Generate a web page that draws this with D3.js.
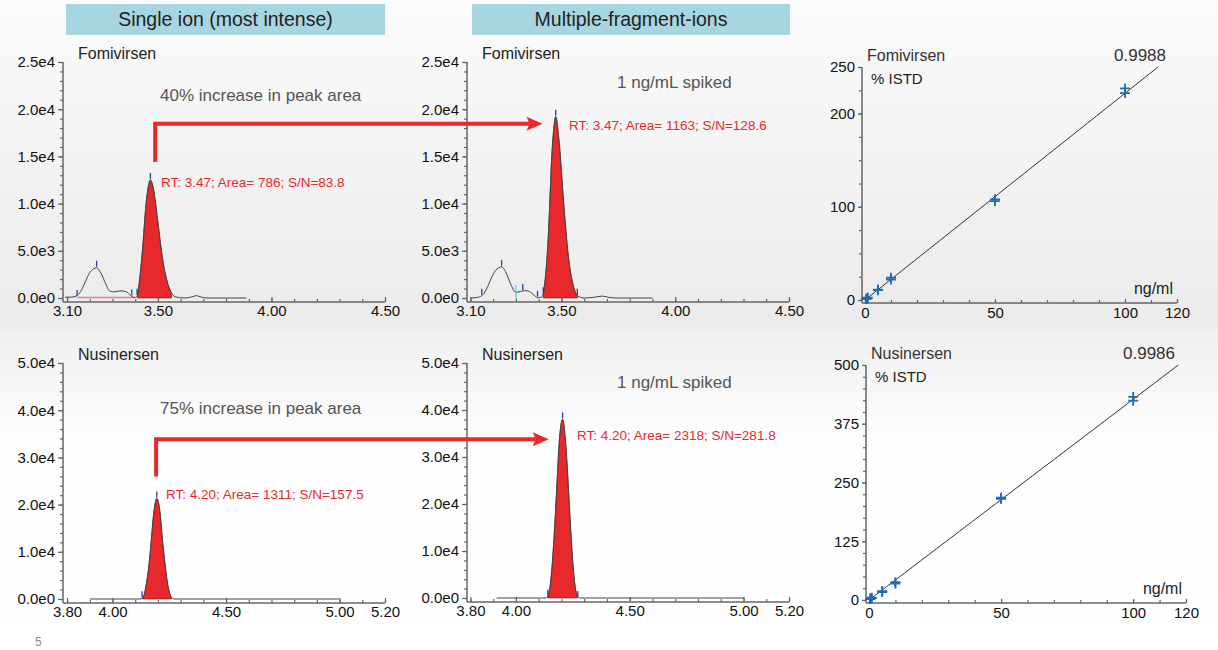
<!DOCTYPE html>
<html>
<head>
<meta charset="utf-8">
<script src="https://cdn.jsdelivr.net/npm/d3@7"></script>
<style>
  body { margin: 0; background: #fff; }
  svg { display: block; font-family: "Liberation Sans", Arial, sans-serif; }
  .axis path, .axis line { stroke: #666; stroke-width: 1.2; }
  .axis text { font-size: 15px; fill: #111; }
</style>
</head>
<body>
<svg width="1218" height="650"></svg>
<script>
// --- chromatogram traces: [retention time (min), intensity] ---
const fomiSingle = [[3.09,80],[3.12,100],[3.14,200],[3.16,700],[3.18,1700],[3.20,2700],[3.23,3200],[3.25,2600],
  [3.27,1500],[3.29,700],[3.31,650],[3.33,750],[3.35,740],[3.37,500],[3.385,150],[3.40,50],[3.41,300],
  [3.43,4500],[3.45,10500],[3.467,12500],[3.48,11600],[3.50,8000],[3.52,4200],[3.54,1800],[3.56,500],
  [3.58,100],[3.62,0],[3.65,120],[3.67,250],[3.69,100],[3.72,0],[3.89,0]];
const fomiMulti = [[3.10,0],[3.13,60],[3.15,250],[3.17,900],[3.19,2000],[3.21,2900],[3.237,3300],[3.26,2500],
  [3.28,1300],[3.30,600],[3.32,700],[3.34,780],[3.36,680],[3.38,300],[3.395,30],[3.41,80],[3.42,400],
  [3.44,5500],[3.46,16000],[3.475,19200],[3.49,16500],[3.51,10000],[3.53,4500],[3.55,1500],[3.57,250],
  [3.60,0],[3.65,100],[3.68,200],[3.71,60],[3.75,0],[3.90,0]];
const nusiSingle = [[3.90,0],[4.12,0],[4.13,150],[4.14,1000],[4.15,3500],[4.16,7000],[4.17,12000],[4.18,17500],
  [4.195,21300],[4.21,18000],[4.22,12500],[4.23,8000],[4.24,4000],[4.25,1500],[4.26,300],[4.27,0],[5.00,0]];
const nusiMulti = [[3.915,0],[4.13,0],[4.14,300],[4.15,2500],[4.16,7500],[4.17,15000],[4.18,24000],[4.19,33000],
  [4.205,38000],[4.22,32000],[4.23,24000],[4.24,15000],[4.25,7500],[4.26,2500],[4.27,400],[4.28,0],[5.005,0]];

// integrated peak windows (start, end)
const fomiSinglePeak = [3.41, 3.565];
const fomiMultiPeak = [3.42, 3.57];
const nusiSinglePeak = [4.13, 4.265];
const nusiMultiPeak = [4.14, 4.272];

// peak markers [time, intensity, kind]
const fomiSingleMarks = [[3.144,100,"b"],[3.23,3200,"b"],[3.385,150,"b"],[3.408,250,"b"],[3.467,12500,"b"]];
const fomiMultiMarks = [[3.15,250,"b"],[3.237,3300,"b"],[3.30,600,"c"],[3.33,750,"b"],[3.395,30,"b"],[3.42,400,"b"],[3.475,19200,"b"],[3.57,250,"b"]];
const nusiSingleMarks = [[4.13,150,"b"],[4.195,21300,"b"]];
const nusiMultiMarks = [[4.14,300,"b"],[4.205,38000,"b"],[4.272,0,"b"]];
const fomiSingleBaseline = [[3.144,60],[3.40,60]];

// peak labels
const peakLabels = ["RT: 3.47; Area= 786; S/N=83.8", "RT: 3.47; Area= 1163; S/N=128.6",
                    "RT: 4.20; Area= 1311; S/N=157.5", "RT: 4.20; Area= 2318; S/N=281.8"];
const compounds = ["Fomivirsen", "Nusinersen"];
const headers = ["Single ion (most intense)", "Multiple-fragment-ions"];
const increases = ["40% increase in peak area", "75% increase in peak area"];

// axis ticks
const fomiTimeTicks = [3.10, 3.50, 4.00, 4.50];
const nusiTimeTicks = [3.80, 4.00, 4.50, 5.00, 5.20];
const fomiIntTicks = [0, 5000, 10000, 15000, 20000, 25000];
const nusiIntTicks = [0, 10000, 20000, 30000, 40000, 50000];

// calibration curves
const calConc = [0.5, 0.5, 1, 1, 5, 5, 10, 10, 50, 50, 100, 100];
const fomiResp = [1.0, 1.4, 2.0, 2.6, 10.5, 11.2, 22, 24, 106, 108, 222, 227];
const nusiResp = [2, 3, 4, 5, 17, 19, 35, 38, 215, 218, 424, 432];
const fitSlopes = [2.218, 4.27];
const fitR = ["0.9988", "0.9986"];
const concTicks = [0, 50, 100, 120];
const fomiRespTicks = [0, 100, 200, 250];
const nusiRespTicks = [0, 125, 250, 375, 500];

const svg = d3.select("svg");
const RED = "#e8292c";

// background
const grad = svg.append("defs").append("linearGradient").attr("id", "bg")
  .attr("x1", 0).attr("y1", 0).attr("x2", 0).attr("y2", 1);
[[0, "#fbfbfb"], [0.5, "#ebebeb"], [0.51, "#f0f0f0"], [0.68, "#fefefe"], [1, "#ffffff"]]
  .forEach(s => grad.append("stop").attr("offset", s[0]).attr("stop-color", s[1]));
svg.append("rect").attr("width", 1218).attr("height", 650).attr("fill", "url(#bg)");

// headers
[[66, 385], [472, 790]].forEach((b, i) => {
  svg.append("rect").attr("x", b[0]).attr("y", 4).attr("width", b[1] - b[0]).attr("height", 31).attr("fill", "#a7d6e1");
  svg.append("text").attr("x", (b[0] + b[1]) / 2).attr("y", 26).attr("text-anchor", "middle")
    .style("font-size", "19.5px").attr("fill", "#222").text(headers[i]);
});

const fmtE = d => d3.format(".1e")(d).replace("+", "");

function chromPanel(o) {
  const g = svg.append("g");
  const x = d3.scaleLinear().domain(o.xDomain).range([o.left, o.right]);
  const y = d3.scaleLinear().domain([0, o.yMax]).range([o.bottom, o.top]);
  const axisY = o.bottom + 4;

  // y axis
  const ya = g.append("g").attr("class", "axis").attr("transform", `translate(${o.left},0)`);
  ya.call(d3.axisLeft(y).tickValues(o.yTicks).tickFormat(fmtE).tickSizeInner(5).tickSizeOuter(0).tickPadding(3));
  ya.select(".domain").remove();
  g.append("g").attr("class", "axis").attr("transform", `translate(${o.left},0)`)
    .call(d3.axisLeft(y).tickValues(d3.range(0, o.yMax + 1, o.yMax / 25)).tickFormat("").tickSizeInner(3).tickSizeOuter(0))
    .select(".domain").remove();
  g.append("line").attr("x1", o.left).attr("x2", o.left).attr("y1", o.top).attr("y2", axisY)
    .attr("stroke", "#666").attr("stroke-width", 1.5);

  // x axis
  const xa = g.append("g").attr("class", "axis").attr("transform", `translate(0,${axisY})`);
  xa.call(d3.axisBottom(x).tickValues(o.xTicks).tickFormat(d3.format(".2f")).tickSizeInner(-5).tickSizeOuter(0).tickPadding(3));
  xa.select(".domain").remove();
  const minors = d3.range(Math.round(o.xTicks[0] * 10), Math.round(o.xTicks[o.xTicks.length - 1] * 10) + 1).map(d => d / 10);
  g.append("g").attr("class", "axis").attr("transform", `translate(0,${axisY})`)
    .call(d3.axisBottom(x).tickValues(minors).tickFormat("").tickSizeInner(-3).tickSizeOuter(0))
    .select(".domain").remove();
  g.append("line").attr("x1", o.left).attr("x2", o.right).attr("y1", axisY).attr("y2", axisY)
    .attr("stroke", "#666").attr("stroke-width", 1.5);

  // baseline of integration
  if (o.baseline) {
    g.append("path").datum(o.baseline).attr("fill", "none").attr("stroke", "#ef7f82").attr("stroke-width", 1.5)
      .attr("d", d3.line().x(d => x(d[0])).y(d => y(d[1])));
  }

  // filled peak
  const peakPts = o.trace.filter(d => d[0] >= o.peak[0] && d[0] <= o.peak[1]);
  g.append("path").datum(peakPts)
    .attr("d", d3.area().x(d => x(d[0])).y0(y(0)).y1(d => y(d[1])).curve(d3.curveMonotoneX))
    .attr("fill", RED).attr("stroke", "#6b1a1a").attr("stroke-width", 0.6);

  // trace
  g.append("path").datum(o.trace)
    .attr("d", d3.line().x(d => x(d[0])).y(d => y(d[1])).curve(d3.curveMonotoneX))
    .attr("fill", "none").attr("stroke", "#444").attr("stroke-width", 1);

  // markers
  g.selectAll(".mk").data(o.marks).join("line")
    .attr("x1", d => x(d[0])).attr("x2", d => x(d[0]))
    .attr("y1", d => y(d[1]) - 7)
    .attr("y2", d => d[2] === "c" ? y(0) + 1 : y(d[1]) - 1)
    .attr("stroke", d => d[2] === "c" ? "#5cc8ee" : "#2b3f9e").attr("stroke-width", 1.3);

  // texts
  g.append("text").attr("x", o.left + 15).attr("y", o.top - 3).style("font-size", "16px").attr("fill", "#222").text(o.name);
  g.append("text").attr("x", o.noteX).attr("y", o.noteY).style("font-size", "17px").attr("fill", "#555").text(o.note);
  g.append("text").attr("x", o.labelX).attr("y", o.labelY).style("font-size", "13.5px").attr("fill", RED).text(o.label);
  return { x, y };
}

const pTL = chromPanel({ left: 63, right: 385, top: 62, bottom: 298, xDomain: [3.082, 4.50], yMax: 25000,
  xTicks: fomiTimeTicks, yTicks: fomiIntTicks, trace: fomiSingle, peak: fomiSinglePeak, marks: fomiSingleMarks,
  baseline: fomiSingleBaseline, name: compounds[0], note: increases[0], noteX: 160, noteY: 101,
  label: peakLabels[0], labelX: 161, labelY: 187 });
const pTM = chromPanel({ left: 467, right: 789, top: 62, bottom: 298, xDomain: [3.085, 4.50], yMax: 25000,
  xTicks: fomiTimeTicks, yTicks: fomiIntTicks, trace: fomiMulti, peak: fomiMultiPeak, marks: fomiMultiMarks,
  name: compounds[0], note: "1 ng/mL spiked", noteX: 617, noteY: 88,
  label: peakLabels[1], labelX: 569, labelY: 130 });
const pBL = chromPanel({ left: 63, right: 385, top: 363, bottom: 599, xDomain: [3.782, 5.20], yMax: 50000,
  xTicks: nusiTimeTicks, yTicks: nusiIntTicks, trace: nusiSingle, peak: nusiSinglePeak, marks: nusiSingleMarks,
  name: compounds[1], note: increases[1], noteX: 160, noteY: 414,
  label: peakLabels[2], labelX: 166, labelY: 499 });
const pBM = chromPanel({ left: 467, right: 789, top: 363, bottom: 598, xDomain: [3.785, 5.20], yMax: 50000,
  xTicks: nusiTimeTicks, yTicks: nusiIntTicks, trace: nusiMulti, peak: nusiMultiPeak, marks: nusiMultiMarks,
  name: compounds[1], note: "1 ng/mL spiked", noteX: 617, noteY: 388,
  label: peakLabels[3], labelX: 577, labelY: 440 });

// elbow arrows from single-ion peak to multi-fragment peak
function elbowArrow(from, to, startT, startI, levelI, endT) {
  const x0 = from.x(startT), y0 = from.y(startI), yl = from.y(levelI), x1 = to.x(endT);
  svg.append("path").attr("d", `M${x0},${y0}V${yl}H${x1 - 13}`)
    .attr("fill", "none").attr("stroke", RED).attr("stroke-width", 4);
  svg.append("path").attr("d", `M${x1},${yl}L${x1 - 16},${yl - 7}L${x1 - 13},${yl}L${x1 - 16},${yl + 7}Z`).attr("fill", RED);
}
elbowArrow(pTL, pTM, 3.488, 14400, 18450, 3.417);
elbowArrow(pBL, pBM, 4.192, 25960, 33830, 4.144);

// calibration panels
function calPanel(o) {
  const g = svg.append("g");
  const x = d3.scaleLinear().domain([0, 120]).range([o.left + 3, o.right]);
  const y = d3.scaleLinear().domain([0, o.yMax]).range([o.bottom, o.top]);
  const axisY = o.bottom + 3;

  const ya = g.append("g").attr("class", "axis").attr("transform", `translate(${o.left},0)`);
  ya.call(d3.axisLeft(y).tickValues(o.yTicks).tickSizeInner(4).tickSizeOuter(0).tickPadding(3));
  ya.select(".domain").remove();
  g.append("g").attr("class", "axis").attr("transform", `translate(${o.left},0)`)
    .call(d3.axisLeft(y).tickValues(d3.range(0, o.yMax + 1, 25)).tickFormat("").tickSizeInner(3).tickSizeOuter(0))
    .select(".domain").remove();
  g.append("line").attr("x1", o.left).attr("x2", o.left).attr("y1", o.top).attr("y2", axisY)
    .attr("stroke", "#666").attr("stroke-width", 1.5);

  const xa = g.append("g").attr("class", "axis").attr("transform", `translate(0,${axisY})`);
  xa.call(d3.axisBottom(x).tickValues(concTicks).tickSizeInner(-4).tickSizeOuter(0).tickPadding(4));
  xa.select(".domain").remove();
  g.append("g").attr("class", "axis").attr("transform", `translate(0,${axisY})`)
    .call(d3.axisBottom(x).tickValues(d3.range(0, 121, 10)).tickFormat("").tickSizeInner(-3).tickSizeOuter(0))
    .select(".domain").remove();
  g.append("line").attr("x1", o.left).attr("x2", o.right).attr("y1", axisY).attr("y2", axisY)
    .attr("stroke", "#666").attr("stroke-width", 1.5);

  // fit line
  const xEnd = o.yMax / o.slope;
  g.append("line").attr("x1", x(0)).attr("y1", y(0)).attr("x2", x(xEnd)).attr("y2", y(o.yMax))
    .attr("stroke", "#333").attr("stroke-width", 1);

  // points
  g.selectAll(".pt").data(calConc.map((c, i) => [c, o.resp[i]])).join("path")
    .attr("transform", d => `translate(${x(d[0])},${y(d[1])})`)
    .attr("d", "M-5,0H5M0,-5V5").attr("stroke", "#1f6cb6").attr("stroke-width", 1.8).attr("fill", "none");

  g.append("text").attr("x", o.left + 5).attr("y", o.top - 6).style("font-size", "16px").attr("fill", "#333").text(o.name);
  g.append("text").attr("x", o.right - 11).attr("y", o.top - 6).attr("text-anchor", "end").style("font-size", "17px").attr("fill", "#333").text(o.r);
  g.append("text").attr("x", o.left + 9).attr("y", o.top + 17).style("font-size", "15px").attr("fill", "#222").text("% ISTD");
  g.append("text").attr("x", o.right - 4).attr("y", o.bottom - 6).attr("text-anchor", "end").style("font-size", "16px").attr("fill", "#222").text("ng/ml");
}
calPanel({ left: 862, right: 1177, top: 67, bottom: 300, yMax: 250, yTicks: fomiRespTicks,
  resp: fomiResp, slope: fitSlopes[0], name: compounds[0], r: fitR[0] });
calPanel({ left: 866, right: 1186, top: 365, bottom: 600, yMax: 500, yTicks: nusiRespTicks,
  resp: nusiResp, slope: fitSlopes[1], name: compounds[1], r: fitR[1] });

// page number
svg.append("text").attr("x", 35).attr("y", 646).style("font-size", "12px").attr("fill", "#888").text("5");
</script>
</body>
</html>
